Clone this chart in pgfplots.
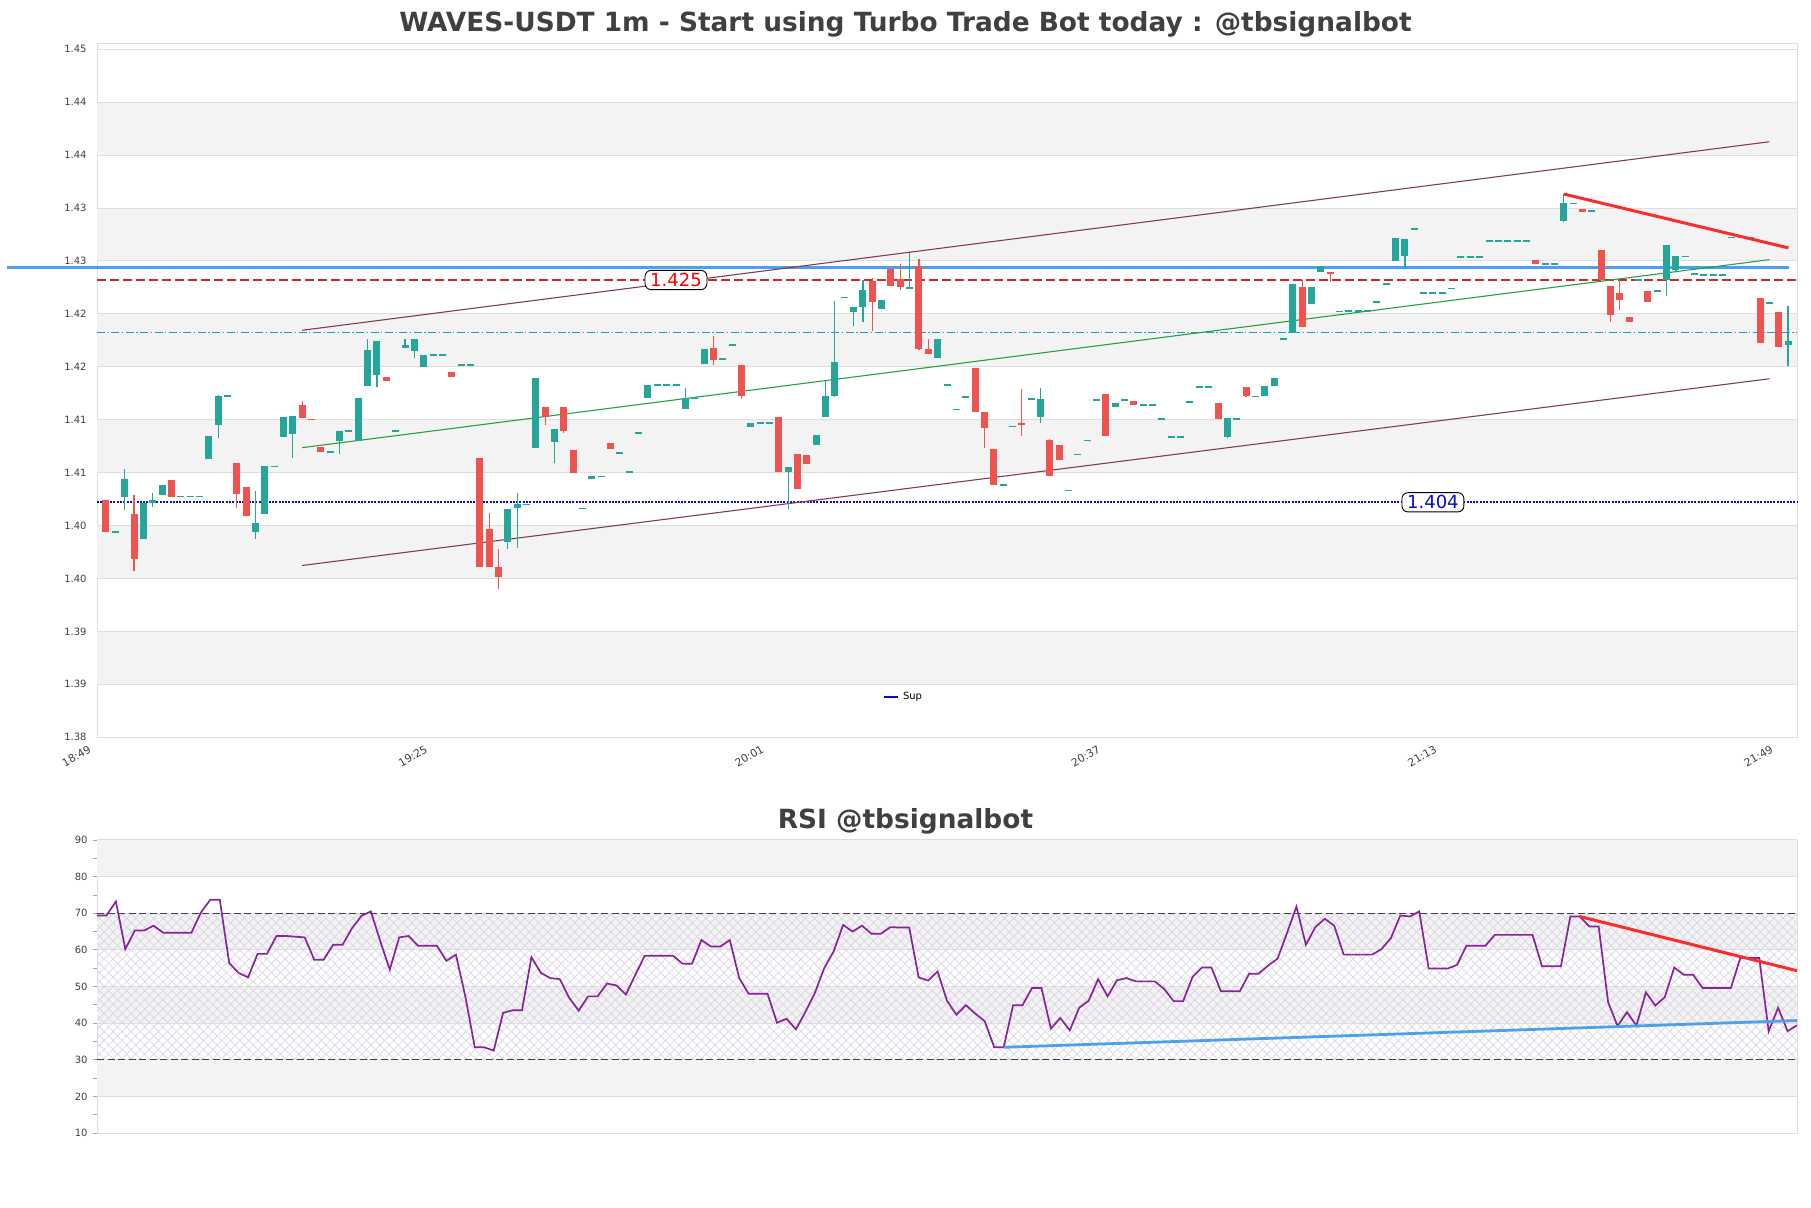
\documentclass[border=0pt]{standalone}
\usepackage{fontspec}
\setmainfont{DejaVu Sans}
\usepackage{pgfplots}
\pgfplotsset{compat=1.18}
\usepackage{pgfplotstable}
\usetikzlibrary{patterns.meta}

\definecolor{upc}{RGB}{38,166,154}
\definecolor{dnc}{RGB}{239,83,80}
\definecolor{band}{RGB}{243,243,243}
\definecolor{gridc}{RGB}{222,222,222}
\definecolor{txt}{RGB}{64,64,64}
\definecolor{chan}{RGB}{130,60,85}
\definecolor{midl}{RGB}{40,160,60}
\definecolor{resb}{RGB}{77,160,236}
\definecolor{supc}{RGB}{10,10,200}
\definecolor{redd}{RGB}{210,40,40}
\definecolor{cyd}{RGB}{25,155,205}
\definecolor{trendr}{RGB}{250,45,45}
\definecolor{rsil}{RGB}{135,35,155}
\definecolor{hatchc}{RGB}{218,212,226}

% one row per minute, 18:49 = 0
\pgfplotstableread{
x o h l c
0 1.40419 1.40419 1.40123 1.40123
1 1.40123 1.40123 1.40123 1.40123
2 1.40450 1.40711 1.40325 1.40617
3 1.40287 1.40469 1.39752 1.39862
4 1.40051 1.40397 1.40051 1.40397
5 1.40397 1.40485 1.40356 1.40425
6 1.40469 1.40567 1.40469 1.40567
7 1.40608 1.40608 1.40450 1.40450
8 1.40457 1.40457 1.40457 1.40457
9 1.40457 1.40457 1.40457 1.40457
10 1.40457 1.40457 1.40457 1.40457
11 1.40809 1.41023 1.40809 1.41023
12 1.41130 1.41409 1.41007 1.41409
13 1.41406 1.41406 1.41406 1.41406
14 1.40768 1.40768 1.40343 1.40479
15 1.40542 1.40542 1.40271 1.40271
16 1.40123 1.40504 1.40051 1.40202
17 1.40293 1.40740 1.40293 1.40740
18 1.40740 1.40740 1.40740 1.40740
19 1.41016 1.41202 1.41016 1.41202
20 1.41045 1.41218 1.40818 1.41218
21 1.41315 1.41362 1.41196 1.41196
22 1.41192 1.41192 1.41177 1.41177
23 1.40919 1.40919 1.40875 1.40875
24 1.40878 1.40878 1.40878 1.40878
25 1.40982 1.41074 1.40857 1.41074
26 1.41074 1.41074 1.41074 1.41074
27 1.40982 1.41385 1.40982 1.41385
28 1.41497 1.41938 1.41497 1.41843
29 1.41601 1.41928 1.41488 1.41928
30 1.41586 1.41586 1.41545 1.41545
31 1.41074 1.41074 1.41074 1.41074
32 1.41856 1.41947 1.41856 1.41884
33 1.41828 1.41947 1.41765 1.41947
34 1.41677 1.41796 1.41677 1.41796
35 1.41796 1.41796 1.41796 1.41796
36 1.41796 1.41796 1.41796 1.41796
37 1.41633 1.41633 1.41582 1.41582
38 1.41700 1.41700 1.41700 1.41700
39 1.41700 1.41700 1.41700 1.41700
40 1.40815 1.40815 1.39790 1.39790
41 1.40145 1.40303 1.39790 1.39790
42 1.39784 1.39963 1.39586 1.39696
43 1.40029 1.40334 1.39963 1.40334
44 1.40350 1.40491 1.39972 1.40387
45 1.40381 1.40381 1.40381 1.40381
46 1.40916 1.41576 1.40916 1.41576
47 1.41303 1.41303 1.41130 1.41208
48 1.40969 1.41089 1.40774 1.41089
49 1.41303 1.41303 1.41057 1.41073
50 1.40891 1.40891 1.40680 1.40680
51 1.40343 1.40343 1.40343 1.40343
52 1.40623 1.40645 1.40623 1.40645
53 1.40645 1.40645 1.40645 1.40645
54 1.40963 1.40963 1.40906 1.40906
55 1.40869 1.40869 1.40869 1.40869
56 1.40689 1.40689 1.40689 1.40689
57 1.41057 1.41057 1.41057 1.41057
58 1.41387 1.41513 1.41387 1.41513
59 1.41513 1.41513 1.41513 1.41513
60 1.41513 1.41513 1.41513 1.41513
61 1.41513 1.41513 1.41513 1.41513
62 1.41284 1.41482 1.41284 1.41387
63 1.41387 1.41387 1.41387 1.41387
64 1.41705 1.41850 1.41705 1.41850
65 1.41859 1.41975 1.41702 1.41749
66 1.41755 1.41755 1.41755 1.41755
67 1.41887 1.41887 1.41887 1.41887
68 1.41696 1.41696 1.41378 1.41403
69 1.41108 1.41152 1.41108 1.41152
70 1.41152 1.41152 1.41152 1.41152
71 1.41152 1.41152 1.41152 1.41152
72 1.41208 1.41208 1.40686 1.40686
73 1.40686 1.40736 1.40334 1.40736
74 1.40853 1.40853 1.40523 1.40523
75 1.40843 1.40843 1.40758 1.40758
76 1.40938 1.41032 1.40938 1.41032
77 1.41205 1.41560 1.41205 1.41403
78 1.41409 1.42299 1.41394 1.41724
79 1.42340 1.42340 1.42340 1.42340
80 1.42196 1.42246 1.42063 1.42246
81 1.42246 1.42504 1.42101 1.42409
82 1.42488 1.42520 1.42016 1.42290
83 1.42227 1.42315 1.42227 1.42315
84 1.42608 1.42608 1.42447 1.42447
85 1.42513 1.42652 1.42410 1.42435
86 1.42416 1.42755 1.42416 1.42438
87 1.42636 1.42702 1.41843 1.41843
88 1.41850 1.41938 1.41806 1.41806
89 1.41765 1.41944 1.41765 1.41944
90 1.41513 1.41513 1.41513 1.41513
91 1.41277 1.41277 1.41277 1.41277
92 1.41397 1.41397 1.41397 1.41397
93 1.41670 1.41670 1.41255 1.41255
94 1.41255 1.41255 1.40916 1.41104
95 1.40900 1.40900 1.40564 1.40564
96 1.40567 1.40567 1.40567 1.40567
97 1.41120 1.41120 1.41120 1.41120
98 1.41152 1.41466 1.41026 1.41130
99 1.41378 1.41378 1.41378 1.41378
100 1.41205 1.41482 1.41152 1.41378
101 1.40988 1.41000 1.40648 1.40648
102 1.40938 1.40938 1.40799 1.40799
103 1.40513 1.40513 1.40513 1.40513
104 1.40853 1.40853 1.40853 1.40853
105 1.40985 1.40985 1.40985 1.40985
106 1.41369 1.41369 1.41369 1.41369
107 1.41428 1.41428 1.41026 1.41026
108 1.41303 1.41334 1.41303 1.41334
109 1.41369 1.41369 1.41369 1.41369
110 1.41362 1.41362 1.41321 1.41321
111 1.41321 1.41321 1.41321 1.41321
112 1.41321 1.41321 1.41321 1.41321
113 1.41192 1.41192 1.41192 1.41192
114 1.41020 1.41020 1.41020 1.41020
115 1.41020 1.41020 1.41020 1.41020
116 1.41350 1.41350 1.41350 1.41350
117 1.41491 1.41491 1.41491 1.41491
118 1.41491 1.41491 1.41491 1.41491
119 1.41334 1.41334 1.41183 1.41183
120 1.41020 1.41192 1.41010 1.41192
121 1.41189 1.41189 1.41189 1.41189
122 1.41491 1.41491 1.41394 1.41403
123 1.41403 1.41403 1.41403 1.41403
124 1.41403 1.41504 1.41403 1.41504
125 1.41497 1.41576 1.41497 1.41576
126 1.41944 1.41944 1.41944 1.41944
127 1.42001 1.42463 1.42001 1.42463
128 1.42435 1.42497 1.42054 1.42054
129 1.42277 1.42435 1.42277 1.42435
130 1.42576 1.42630 1.42576 1.42630
131 1.42573 1.42573 1.42482 1.42560
132 1.42205 1.42205 1.42205 1.42205
133 1.42211 1.42211 1.42211 1.42211
134 1.42211 1.42211 1.42211 1.42211
135 1.42211 1.42211 1.42211 1.42211
136 1.42293 1.42293 1.42293 1.42293
137 1.42463 1.42463 1.42463 1.42463
138 1.42677 1.42897 1.42677 1.42897
139 1.42730 1.42887 1.42604 1.42887
140 1.42969 1.42991 1.42969 1.42991
141 1.42378 1.42378 1.42378 1.42378
142 1.42378 1.42378 1.42378 1.42378
143 1.42378 1.42378 1.42378 1.42378
144 1.42425 1.42425 1.42425 1.42425
145 1.42718 1.42718 1.42718 1.42718
146 1.42718 1.42718 1.42718 1.42718
147 1.42718 1.42718 1.42718 1.42718
148 1.42872 1.42872 1.42872 1.42872
149 1.42872 1.42872 1.42872 1.42872
150 1.42872 1.42872 1.42872 1.42872
151 1.42872 1.42872 1.42872 1.42872
152 1.42872 1.42872 1.42872 1.42872
153 1.42689 1.42689 1.42652 1.42652
154 1.42652 1.42652 1.42652 1.42652
155 1.42652 1.42652 1.42652 1.42652
156 1.43060 1.43312 1.43045 1.43227
157 1.43227 1.43227 1.43227 1.43227
158 1.43170 1.43170 1.43148 1.43148
159 1.43152 1.43152 1.43152 1.43152
160 1.42787 1.42787 1.42504 1.42504
161 1.42447 1.42447 1.42101 1.42167
162 1.42378 1.42504 1.42214 1.42315
163 1.42152 1.42152 1.42104 1.42104
164 1.42504 1.42504 1.42504 1.42504
165 1.42400 1.42400 1.42293 1.42293
166 1.42397 1.42397 1.42397 1.42397
167 1.42504 1.42828 1.42347 1.42828
168 1.42592 1.42730 1.42580 1.42730
169 1.42727 1.42727 1.42727 1.42727
170 1.42560 1.42560 1.42560 1.42560
171 1.42550 1.42550 1.42550 1.42550
172 1.42550 1.42550 1.42550 1.42550
173 1.42550 1.42550 1.42550 1.42550
174 1.42906 1.42906 1.42906 1.42906
175 1.42906 1.42906 1.42906 1.42906
176 1.42906 1.42906 1.42906 1.42906
177 1.42330 1.42330 1.41907 1.41907
178 1.42284 1.42284 1.42284 1.42284
179 1.42199 1.42199 1.41865 1.41865
180 1.41884 1.42252 1.41692 1.41928
}\candles

\pgfplotstableread{
x r
0 69.4
1 69.4
2 73.2
3 60.2
4 65.3
5 65.3
6 66.6
7 64.7
8 64.7
9 64.7
10 64.7
11 70.2
12 73.7
13 73.7
14 56.4
15 53.7
16 52.5
17 58.9
18 58.9
19 63.8
20 63.8
21 63.6
22 63.4
23 57.3
24 57.3
25 61.4
26 61.4
27 65.9
28 69.3
29 70.5
30 62.3
31 54.6
32 63.4
33 63.8
34 61.1
35 61.1
36 61.1
37 57.0
38 58.7
39 47.3
40 33.4
41 33.4
42 32.5
43 42.8
44 43.5
45 43.5
46 58.0
47 53.7
48 52.3
49 52.0
50 46.9
51 43.4
52 47.3
53 47.3
54 50.8
55 50.3
56 47.8
57 53.2
58 58.4
59 58.4
60 58.4
61 58.4
62 56.2
63 56.2
64 62.7
65 60.9
66 60.9
67 62.7
68 52.3
69 48.0
70 48.0
71 48.0
72 40.1
73 41.2
74 38.3
75 43.0
76 48.2
77 55.0
78 59.6
79 66.8
80 65.0
81 66.6
82 64.4
83 64.4
84 66.2
85 66.1
86 66.1
87 52.5
88 51.6
89 54.1
90 46.1
91 42.3
92 44.9
93 42.6
94 40.5
95 33.4
96 33.4
97 44.9
98 44.9
99 49.6
100 49.6
101 38.5
102 41.4
103 38.0
104 44.2
105 46.1
106 52.0
107 47.3
108 51.7
109 52.3
110 51.4
111 51.4
112 51.4
113 49.3
114 46.0
115 46.0
116 52.6
117 55.2
118 55.2
119 48.7
120 48.7
121 48.7
122 53.5
123 53.5
124 55.7
125 57.6
126 64.6
127 71.8
128 61.4
129 66.2
130 68.5
131 66.6
132 58.7
133 58.7
134 58.7
135 58.7
136 60.2
137 63.2
138 69.4
139 69.1
140 70.5
141 54.9
142 54.9
143 54.9
144 55.9
145 61.1
146 61.1
147 61.1
148 64.1
149 64.1
150 64.1
151 64.1
152 64.1
153 55.5
154 55.5
155 55.5
156 69.1
157 69.1
158 66.4
159 66.4
160 45.7
161 39.2
162 43.0
163 39.3
164 48.4
165 44.8
166 47.1
167 55.2
168 53.2
169 53.2
170 49.6
171 49.6
172 49.6
173 49.6
174 57.8
175 57.8
176 57.8
177 37.8
178 44.2
179 37.8
180 39.4
}\rsi

\pgfplotsset{
  panel/.style={
    scale only axis, clip=false,
    axis line style={draw=gridc},
    tick label style={font=\fontsize{5}{6}\selectfont, text=txt},
    /pgf/number format/assume math mode=true,
    every axis plot/.append style={forget plot},
  },
  candle/.style={draw=none, mark=none,
    error bars/.cd, y dir=both, y explicit, error mark=none,
    error bar style={draw=#1}},
}

\begin{document}
\begin{tikzpicture}
\useasboundingbox (0pt,0pt) rectangle (905.5pt,604pt);

\node[font=\fontsize{13.2}{16}\selectfont\bfseries, text=txt] at (452.75pt,591.8pt)
  {WAVES-USDT 1m - Start using Turbo Trade Bot today : @tbsignalbot};
\node[font=\fontsize{13.2}{16}\selectfont\bfseries, text=txt] at (452.75pt,193.3pt)
  {RSI @tbsignalbot};

% ---------------- price panel ----------------
\begin{axis}[
  panel,
  at={(48.5pt,235.35pt)}, anchor=south west,
  width=850pt, height=347.15pt,
  xmin=-0.96, xmax=180.96, ymin=1.3818, ymax=1.44739,
  xtick={0,36,72,108,144,180},
  xticklabels={18:49,19:25,20:01,20:37,21:13,21:49},
  ytick={1.3818,1.3868,1.3918,1.3968,1.4018,1.4068,1.4118,1.4168,1.4218,1.4268,1.4318,1.4368,1.4418,1.4468},
  yticklabels={1.38,1.39,1.39,1.40,1.40,1.41,1.41,1.42,1.42,1.43,1.43,1.44,1.44,1.45},
  major tick length=0pt,
  xticklabel style={rotate=30, anchor=north east, inner sep=0pt, xshift=-9.5pt, yshift=1.5pt,
    font=\fontsize{5.4}{6}\selectfont},
  yticklabel style={anchor=east, inner sep=0pt, xshift=-5pt},
  legend style={at={(0.475,0.058)}, anchor=center, draw=none, fill=none,
    font=\fontsize{5}{6}\selectfont, inner sep=0pt},
  legend image code/.code={\draw[#1] (0pt,0pt) -- (7pt,0pt);},
]
% background bands
\addplot[fill=band, draw=none] coordinates {(-0.96,1.3868) (180.96,1.3868) (180.96,1.3918) (-0.96,1.3918)} -- cycle;
\addplot[fill=band, draw=none] coordinates {(-0.96,1.3968) (180.96,1.3968) (180.96,1.4018) (-0.96,1.4018)} -- cycle;
\addplot[fill=band, draw=none] coordinates {(-0.96,1.4068) (180.96,1.4068) (180.96,1.4118) (-0.96,1.4118)} -- cycle;
\addplot[fill=band, draw=none] coordinates {(-0.96,1.4168) (180.96,1.4168) (180.96,1.4218) (-0.96,1.4218)} -- cycle;
\addplot[fill=band, draw=none] coordinates {(-0.96,1.4268) (180.96,1.4268) (180.96,1.4318) (-0.96,1.4318)} -- cycle;
\addplot[fill=band, draw=none] coordinates {(-0.96,1.4368) (180.96,1.4368) (180.96,1.4418) (-0.96,1.4418)} -- cycle;
\pgfplotsinvokeforeach{1.3868,1.3918,1.3968,1.4018,1.4068,1.4118,1.4168,1.4218,1.4268,1.4318,1.4368,1.4418,1.4468}{
  \addplot[gridc, line width=0.5pt] coordinates {(-0.96,#1) (180.96,#1)};
}

% horizontal levels
\addplot[cyd, line width=0.5pt, dash pattern=on 4pt off 1.3pt on 0.6pt off 1.3pt] coordinates {(-0.96,1.42001) (180.96,1.42001)};
\addplot[redd, line width=0.7pt, dash pattern=on 4.5pt off 2pt] coordinates {(-0.96,1.425) (180.96,1.425)};
\addplot[supc, line width=1pt, dash pattern=on 1pt off 0.65pt] coordinates {(-0.96,1.404) (180.96,1.404)};
\addplot[resb, line width=1.4pt] coordinates {(-10.63,1.4262) (180.05,1.4262)};

% regression channel
\addplot[chan, line width=0.55pt] coordinates {(21,1.42025) (178,1.43806)};
\addplot[midl, line width=0.55pt] coordinates {(21,1.40916) (178,1.42692)};
\addplot[chan, line width=0.55pt] coordinates {(21,1.39803) (178,1.41567)};

% wicks
\addplot[candle=upc, error bar style={line width=0.6pt}]
  table[x=x, y expr={\thisrow{c}>=\thisrow{o} ? (\thisrow{h}+\thisrow{l})/2 : nan},
        y error expr={(\thisrow{h}-\thisrow{l})/2}] {\candles};
\addplot[candle=dnc, error bar style={line width=0.6pt}]
  table[x=x, y expr={\thisrow{c}<\thisrow{o} ? (\thisrow{h}+\thisrow{l})/2 : nan},
        y error expr={(\thisrow{h}-\thisrow{l})/2}] {\candles};
% bodies
\addplot[candle=upc, error bar style={line width=3.5pt}]
  table[x=x, y expr={\thisrow{c}>=\thisrow{o} ? (\thisrow{o}+\thisrow{c})/2 : nan},
        y error expr={max(abs(\thisrow{c}-\thisrow{o})/2,0.00005)}] {\candles};
\addplot[candle=dnc, error bar style={line width=3.5pt}]
  table[x=x, y expr={\thisrow{c}<\thisrow{o} ? (\thisrow{o}+\thisrow{c})/2 : nan},
        y error expr={max(abs(\thisrow{c}-\thisrow{o})/2,0.00005)}] {\candles};

% down trend
\addplot[trendr, line width=1.5pt] coordinates {(156,1.43312) (180.05,1.42803)};

\node[draw=black, fill=white, rounded corners=3pt, line width=0.45pt, inner xsep=2.6pt, inner ysep=1.4pt,
  text=red, font=\fontsize{9}{10}\selectfont] at (axis cs:61,1.425) {1.425};
\node[draw=black, fill=white, rounded corners=3pt, line width=0.45pt, inner xsep=2.6pt, inner ysep=1.4pt,
  text=supc, font=\fontsize{9}{10}\selectfont] at (axis cs:142,1.404) {1.404};

\addlegendimage{draw=supc, line width=1pt}
\addlegendentry{Sup}
\end{axis}

% ---------------- RSI panel ----------------
\begin{axis}[
  panel,
  at={(48.5pt,37.5pt)}, anchor=south west,
  width=850pt, height=146.5pt,
  xmin=0, xmax=180, ymin=10, ymax=90,
  xtick=\empty,
  ytick={10,20,...,90},
  minor ytick={15,25,...,85},
  tick align=outside, major tick length=2pt, minor tick length=2pt,
  every tick/.style={draw=gray!70, line width=0.4pt},
  ytick pos=left,
  yticklabel style={anchor=east, inner sep=0pt, xshift=-2.5pt},
]
\addplot[fill=band, draw=none] coordinates {(0,80) (180,80) (180,90) (0,90)} -- cycle;
\addplot[fill=band, draw=none] coordinates {(0,60) (180,60) (180,70) (0,70)} -- cycle;
\addplot[fill=band, draw=none] coordinates {(0,40) (180,40) (180,50) (0,50)} -- cycle;
\addplot[fill=band, draw=none] coordinates {(0,20) (180,20) (180,30) (0,30)} -- cycle;
\pgfplotsinvokeforeach{20,30,40,50,60,70,80,90}{
  \addplot[gridc, line width=0.5pt] coordinates {(0,#1) (180,#1)};
}
\addplot[draw=none, pattern={Lines[angle=45,distance=3.2pt,line width=0.35pt]}, pattern color=hatchc]
  coordinates {(0,30) (180,30) (180,70) (0,70)} -- cycle;
\addplot[draw=none, pattern={Lines[angle=-45,distance=3.2pt,line width=0.35pt]}, pattern color=hatchc]
  coordinates {(0,30) (180,30) (180,70) (0,70)} -- cycle;
\addplot[black!75, line width=0.6pt, dash pattern=on 3.5pt off 1.75pt] coordinates {(0,70) (180,70)};
\addplot[black!75, line width=0.6pt, dash pattern=on 3.5pt off 1.75pt] coordinates {(0,30) (180,30)};

\addplot[rsil, line width=0.85pt] table[x=x, y=r] {\rsi};

\addplot[resb, line width=1.4pt] coordinates {(96,33.4) (180,40.7)};
\addplot[trendr, line width=1.5pt] coordinates {(157,69.1) (180,54.3)};
\end{axis}
\end{tikzpicture}
\end{document}
